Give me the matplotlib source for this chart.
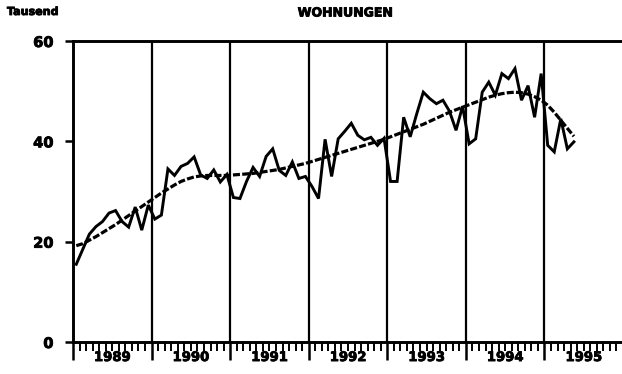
import matplotlib
matplotlib.use("Agg")
import matplotlib.pyplot as plt
import matplotlib.patheffects as pe
from matplotlib.ticker import MultipleLocator, NullFormatter
import numpy as np

# Monthly completions (thousand dwellings), Jan 1989 - May 1995
years = ["1989", "1990", "1991", "1992", "1993", "1994", "1995"]
wohnungen = [
    15.5, 18.5, 21.5, 23.0, 24.0, 25.7, 26.2, 24.0, 22.9, 26.9, 22.3, 27.3,   # 1989
    24.5, 25.3, 34.5, 33.2, 35.0, 35.6, 36.9, 33.3, 32.6, 34.3, 31.9, 33.4,   # 1990
    28.8, 28.6, 32.0, 34.8, 33.0, 37.0, 38.5, 34.2, 33.2, 35.9, 32.6, 33.0,   # 1991
    31.0, 28.6, 40.4, 33.0, 40.5, 42.0, 43.6, 41.2, 40.3, 40.8, 39.2, 40.6,   # 1992
    32.0, 32.0, 44.8, 40.9, 45.5, 49.8, 48.5, 47.5, 48.2, 46.0, 42.2, 47.0,   # 1993
    39.5, 40.5, 49.8, 51.8, 49.2, 53.5, 52.5, 54.5, 48.2, 51.1, 44.8, 53.5,   # 1994
    39.2, 37.9, 44.5, 38.5, 39.9,                                             # 1995
]
trend = [
    19.2, 19.6, 20.3, 21.0, 21.8, 22.6, 23.4, 24.3, 25.2, 26.1, 27.0, 27.9,
    28.8, 29.7, 30.5, 31.3, 32.0, 32.5, 32.9, 33.1, 33.2, 33.2, 33.2, 33.2,
    33.3, 33.4, 33.5, 33.6, 33.8, 34.0, 34.2, 34.4, 34.7, 35.0, 35.3, 35.6,
    36.0, 36.4, 36.8, 37.2, 37.6, 38.0, 38.4, 38.8, 39.2, 39.6, 40.0, 40.4,
    40.9, 41.4, 41.9, 42.4, 42.9, 43.4, 44.0, 44.6, 45.2, 45.8, 46.3, 46.8,
    47.3, 47.8, 48.3, 48.8, 49.2, 49.5, 49.7, 49.8, 49.7, 49.4, 48.9, 48.2,
    47.2, 45.8, 44.2, 42.6, 41.0,
]
y_ticks = [0, 20, 40, 60]

W, H = 622, 374
fig = plt.figure(figsize=(W / 100, H / 100), dpi=100)
ax = fig.add_axes([73 / W, 1 - 342 / H, 550 / W, 301 / H])

x = np.arange(len(wohnungen)) + 0.5
ax.plot(x, wohnungen, color="black", lw=2.1, solid_joinstyle="miter")
ax.plot(x, trend, color="black", lw=2.3, ls=(0, (2.2, 0.7)))

n_months = 12 * len(years)
ax.set_xlim(0, n_months)
ax.set_ylim(0, 60)

# year separators
for k in range(1, len(years)):
    ax.axvline(12 * k, color="black", lw=1.6, zorder=1)

for side in ("left", "top", "bottom"):
    ax.spines[side].set_linewidth(2.1)
ax.spines["right"].set_visible(False)

bold_fx = [pe.withStroke(linewidth=0.6, foreground="black")]

ax.set_yticks(y_ticks)
ax.set_yticklabels([str(v) for v in y_ticks], fontweight="bold", fontsize=10.5)
for lbl in ax.get_yticklabels():
    lbl.set_path_effects(bold_fx)
ax.tick_params(axis="y", direction="out", length=6, width=1.8, pad=8)

ax.xaxis.set_major_locator(MultipleLocator(12))
ax.xaxis.set_minor_locator(MultipleLocator(1))
ax.xaxis.set_major_formatter(NullFormatter())
ax.tick_params(axis="x", which="major", direction="out", length=13, width=1.8)
ax.tick_params(axis="x", which="minor", direction="out", length=6.5, width=1.4)

for k, yr in enumerate(years):
    ax.text(12 * k + 6, -0.03, yr, transform=ax.get_xaxis_transform(),
            ha="center", va="top", fontweight="bold", fontsize=9.5,
            path_effects=bold_fx)

fig.text(345 / W, 1 - 13 / H, "WOHNUNGEN", ha="center", va="center",
         fontweight="bold", fontsize=9, path_effects=bold_fx)
fig.text(7 / W, 1 - 12 / H, "Tausend", ha="left", va="center",
         fontweight="bold", fontsize=8, path_effects=bold_fx)

fig.savefig("out.png", dpi=100)
